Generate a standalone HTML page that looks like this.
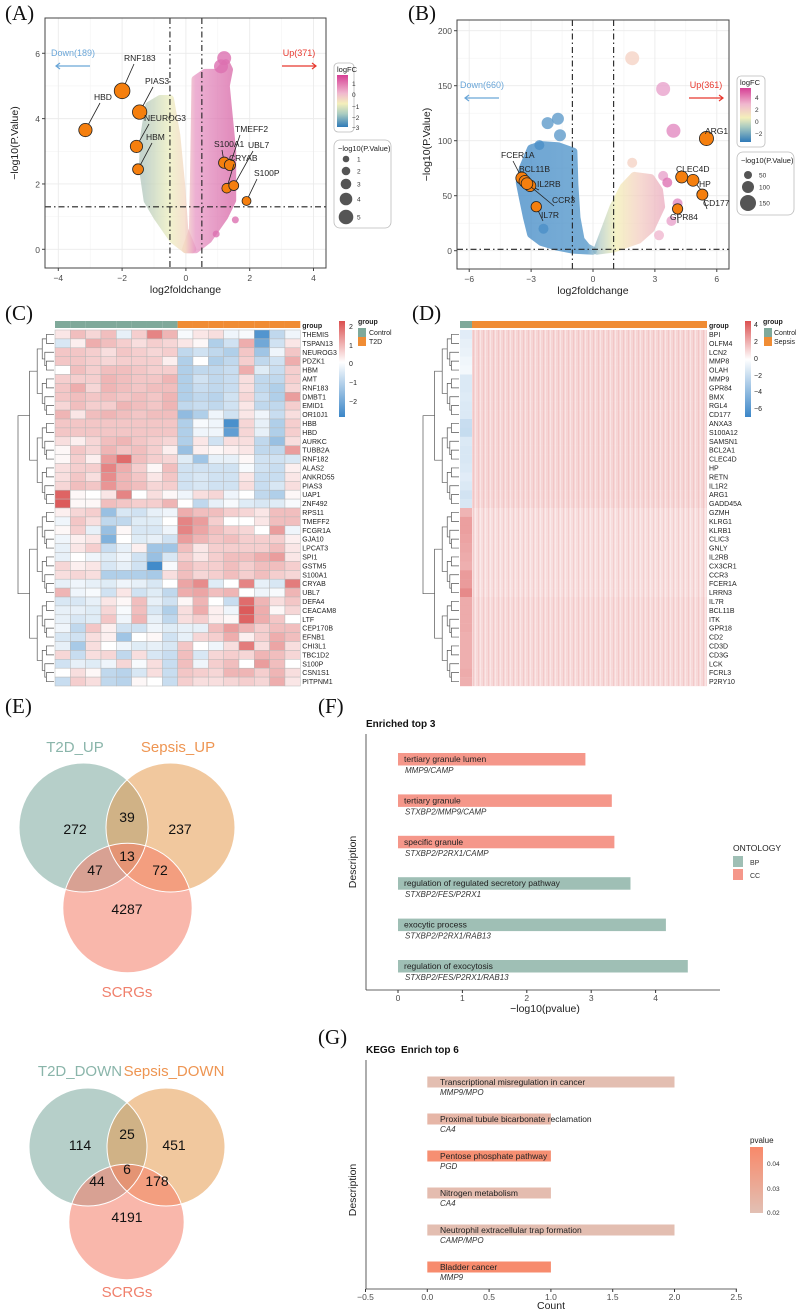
<!DOCTYPE html>
<html><head><meta charset="utf-8">
<style>
html,body{margin:0;padding:0;background:#fff;}
svg{display:block;font-family:"Liberation Sans",sans-serif;}
.pl{font-family:"Liberation Serif",serif;font-size:21px;fill:#111;}
.tk{font-size:8.5px;fill:#4d4d4d;}
.at{font-size:10.5px;fill:#222;}
.gl{font-size:7px;fill:#222;}
</style></head>
<body>
<svg id="fig" width="796" height="1312" viewBox="0 0 796 1312">
<defs>
<linearGradient id="gA" gradientUnits="userSpaceOnUse" x1="144" y1="0" x2="230" y2="0">
<stop offset="0" stop-color="#b3c8bd"/><stop offset="0.3" stop-color="#eceebd"/><stop offset="0.48" stop-color="#f4d6c2"/><stop offset="0.6" stop-color="#e796c4"/><stop offset="1" stop-color="#d96aa9"/></linearGradient>
<linearGradient id="gB" gradientUnits="userSpaceOnUse" x1="520" y1="0" x2="680" y2="0">
<stop offset="0" stop-color="#3f88c5"/><stop offset="0.42" stop-color="#4b92c8"/><stop offset="0.5" stop-color="#b6cdc6"/><stop offset="0.6" stop-color="#f3efb4"/><stop offset="0.75" stop-color="#f3cdc2"/><stop offset="1" stop-color="#e594bd"/></linearGradient>
<linearGradient id="cbA" x1="0" y1="0" x2="0" y2="1"><stop offset="0" stop-color="#d63f95"/><stop offset="0.35" stop-color="#f0b8cf"/><stop offset="0.55" stop-color="#f4efbb"/><stop offset="0.75" stop-color="#a9cbc1"/><stop offset="1" stop-color="#2f7ab8"/></linearGradient>
<linearGradient id="cbB" x1="0" y1="0" x2="0" y2="1"><stop offset="0" stop-color="#d63f95"/><stop offset="0.3" stop-color="#f0b8cf"/><stop offset="0.55" stop-color="#f4efbb"/><stop offset="0.72" stop-color="#a9cbc1"/><stop offset="1" stop-color="#2f7ab8"/></linearGradient>
<linearGradient id="cbC" x1="0" y1="0" x2="0" y2="1"><stop offset="0" stop-color="#db5050"/><stop offset="0.43" stop-color="#ffffff"/><stop offset="1" stop-color="#3b86c8"/></linearGradient>
<linearGradient id="cbD" x1="0" y1="0" x2="0" y2="1"><stop offset="0" stop-color="#db5050"/><stop offset="0.4" stop-color="#ffffff"/><stop offset="1" stop-color="#3b86c8"/></linearGradient>
<linearGradient id="cbG" x1="0" y1="0" x2="0" y2="1"><stop offset="0" stop-color="#f8896a"/><stop offset="1" stop-color="#e2c0b4"/></linearGradient>
<pattern id="stripes" width="5" height="8" patternUnits="userSpaceOnUse"><rect x="0" y="0" width="1" height="8" fill="#ffffff" opacity="0.35"/><rect x="3" y="0" width="0.8" height="8" fill="#e8a0a0" opacity="0.35"/></pattern>
</defs>
<g id="root"></g>
</svg>
<script>
// ===== DATA =====
const aGenes=["HBD","RNF183","PIAS3","NEUROG3","HBM","S100A1","TMEFF2","CRYAB","UBL7","S100P"];
const aFC=[-3.15,-2.0,-1.45,-1.55,-1.5,1.2,1.38,1.28,1.5,1.9];
const aP=[3.65,4.85,4.2,3.15,2.45,2.65,2.58,1.87,1.95,1.48];
const aExtraFC=[1.55,0.95,1.2,1.1];
const aExtraP=[0.9,0.47,5.85,5.6];
const bGenes=["FCER1A","BCL11B","IL2RB","CCR3","IL7R","ARG1","CLEC4D","HP","CD177","GPR84"];
const bFC=[-3.45,-3.3,-3.05,-3.2,-2.75,5.5,4.3,4.85,5.3,4.1];
const bP=[66,63,59,61,40,102,67,64,51,38];
const bExtraFC=[1.9,3.4,3.9,-1.7,-1.6,-2.2,1.9,3.4,3.6,4.1,3.8,3.2,-2.6,-2.4];
const bExtraP=[175,147,109,120,105,116,80,68,62,43,27,14,96,20];
const bExtraCol=["#f5d3c6","#e8a3cc","#e28ac0","#5f9bcb","#5f9bcb","#5f9bcb","#f5d3c6","#e8a3cc","#de73b3","#e08bc0","#e8a3cc","#f0b8cf","#4b8fc7","#4b8fc7"];
const cGenes=["THEMIS","TSPAN13","NEUROG3","PDZK1","HBM","AMT","RNF183","DMBT1","EMID1","OR10J1","HBB","HBD","AURKC","TUBB2A","RNF182","ALAS2","ANKRD55","PIAS3","UAP1","ZNF492","RPS11","TMEFF2","FCGR1A","GJA10","LPCAT3","SPI1","GSTM5","S100A1","CRYAB","UBL7","DEFA4","CEACAM8","LTF","CEP170B","EFNB1","CHI3L1","TBC1D2","S100P","CSN1S1","PITPNM1"];
const cGroups=["Control","Control","Control","Control","Control","Control","Control","Control","T2D","T2D","T2D","T2D","T2D","T2D","T2D","T2D"];
const cValues=[
[.3,.8,.5,.8,-.3,.6,1.5,.9,-.1,.3,.4,-.2,-.1,-2.2,-.8,-.2],
[-.5,.2,1,.8,.6,.4,.6,.5,.3,.1,-1,-.6,1,-1.8,-.6,.3],
[.7,.7,.6,.4,.7,.6,.5,.6,-.8,-.6,-.8,-1,.7,-1.2,-.2,.7],
[.7,.7,.6,.5,.6,.6,.6,.2,-1,0,-1,-.8,.6,-.8,-.6,1],
[0,.8,.6,.8,.8,.7,.6,.6,-1,-.8,-.8,-.7,1,-.4,-.7,.6],
[.6,.6,.6,.9,.8,.7,.7,.9,-1,-.6,-.8,-.7,.4,-.8,-.8,.6],
[.7,1,.5,.9,.8,.7,.8,.8,-1,-.7,-.8,-.7,.4,-.8,-1,.5],
[.7,.8,.7,.8,.7,.8,.7,.9,-1,-.8,-.9,-.6,.5,-.7,-1,1.2],
[.5,.8,.6,.6,.9,.8,.7,.9,-.8,-.7,-.8,-.6,.3,-.8,-.8,.6],
[.9,.3,.8,.9,.8,.7,.8,.8,-1.4,-1,-.2,-.6,.3,-.2,-.7,.4],
[.7,.7,.7,.7,.7,.7,.7,.7,-1,-.1,-.2,-2.3,.5,-.3,-1,.6],
[.7,.7,.7,.7,.7,.7,.7,.7,-1,-.2,-.2,-2,.5,-.3,-1,.6],
[.4,.2,.5,.8,.9,.7,.6,.5,-1,.3,-.6,.4,.4,-.8,-1.3,.4],
[.1,.7,.5,.9,.7,.8,.6,.2,-1.3,.2,.1,.2,.3,-.8,-.8,1.2],
[.1,.6,.2,1.2,1.8,.8,.6,.5,-.4,-1.2,-.3,-.3,.1,-.6,-.6,-.5],
[.4,.6,.6,1.5,1,.6,.1,.8,-.6,-.6,-.6,-.6,-.1,-.6,-.7,.2],
[.4,.7,.4,1.4,.9,.7,.3,.7,-.6,-.5,-.6,-.6,.3,-.7,-.7,.3],
[.5,.8,.7,1.3,.9,.8,.5,.6,-.6,-.5,-.6,-.6,.4,-.7,-.5,.4],
[1.9,.1,0,.3,1.5,0,.4,.1,-.2,.4,.5,-.2,0,-.8,-1,.1],
[2,.1,.1,.8,.7,.6,.6,.9,0,-.8,-.3,-.1,-.4,-.5,-.4,-.1],
[.2,.5,.6,-1.3,-.5,-.6,-.3,-.2,1,.8,.8,.6,.5,.3,.8,.8],
[-.2,.7,.4,-.8,-.8,-.4,-.4,0,1.5,1.2,.6,0,0,.3,.8,.8],
[.1,.6,-.3,-1.3,.1,-.5,-.5,-.2,1.5,1.1,.8,.6,.5,0,1.2,-.2],
[-.2,.2,.3,-1.6,0,-.4,-.3,-.6,1.2,.9,.7,.8,.6,.6,.6,.2],
[-.3,.3,.6,-.7,-.3,.2,-1.2,-1.2,.8,.3,.6,.6,.6,.6,.8,.3],
[-.3,0,-.2,-.4,-.2,-.6,-1.3,-.5,.6,.3,.6,.8,.8,1,1.2,.3],
[.5,.2,.3,-.5,-.3,-.6,-2.4,-.1,.8,.6,.6,.8,.6,.8,.8,.6],
[.4,.5,.4,-1,-1,-1,-1.1,.4,.8,.5,.6,.8,.6,.8,.6,.5],
[-.3,-.2,-.3,-.4,-.2,-.3,-.5,0,1.1,1.4,-.4,0,1.5,-.3,-.5,1.6],
[.9,-.2,-.1,-.6,.3,-.6,-.4,-.8,1,1.1,.8,.9,0,-.2,-.1,.9],
[-.5,-.5,-.3,.3,.1,.8,-.3,-.6,.1,.9,0,-.7,1.8,.9,.4,.7],
[-.3,-.3,-.4,.5,-.1,.8,-.5,-1,.4,1,.2,-.2,2,1,.1,.5],
[-.3,-.5,-.4,.7,-.2,.9,-.3,-.8,.4,.6,.2,.1,1.9,1,.7,0],
[-.2,-.8,.7,.2,-.6,-.6,-.2,-.4,-.3,-.3,.8,1.2,.9,.6,.8,.8],
[-.5,-.6,.4,.2,-1.2,0,.1,-.6,-.3,.5,.6,1,.2,.6,1,.8],
[-.3,-1.1,.4,0,-.2,-.4,-.3,-.5,.7,0,-.2,.4,1.6,.4,1.1,.4],
[.5,-.7,.4,.5,-.8,.4,-.5,-.7,.8,-.5,.5,.6,.5,.9,.8,.5],
[-.6,-.3,-.4,-.2,.5,-.1,.4,-.7,.8,-.2,.6,.8,0,1.2,.8,0],
[0,.4,.1,-.8,-.9,-.5,.4,-.7,.7,.6,.5,.9,.9,.6,.9,.4],
[-.7,.6,.4,-.8,-.9,.1,0,-.7,.6,.4,.4,.5,.6,.5,1,.3]];
const dGenes=["BPI","OLFM4","LCN2","MMP8","OLAH","MMP9","GPR84","BMX","RGL4","CD177","ANXA3","S100A12","SAMSN1","BCL2A1","CLEC4D","HP","RETN","IL1R2","ARG1","GADD45A","GZMH","KLRG1","KLRB1","CLIC3","GNLY","IL2RB","CX3CR1","CCR3","FCER1A","LRRN3","IL7R","BCL11B","ITK","GPR18","CD2","CD3D","CD3G","LCK","FCRL3","P2RY10"];
const dControl=[-1,-0.8,-0.7,-0.5,-0.4,-1.2,-1.2,-1.1,-1.2,-1.2,-1.8,-1.9,-1.2,-1.3,-1.3,-1.2,-1.0,-1.2,-1.5,-1.3,1.8,2.3,2.3,2.2,2.1,2.0,1.9,2.4,2.4,2.8,2.0,2.0,2.0,2.0,1.9,1.9,1.9,1.9,2.0,1.9];
const dSepsis=[1.0,1.0,1.0,1.0,1.0,1.0,1.0,1.0,1.0,1.0,1.0,1.0,1.0,1.0,1.0,1.0,1.0,1.0,1.0,1.0,0.8,0.8,0.8,0.8,0.8,0.8,0.8,0.8,0.8,0.8,0.9,0.9,0.9,0.9,0.9,0.9,0.9,0.9,0.9,0.9];
const fTerms=["tertiary granule lumen","tertiary granule","specific granule","regulation of regulated secretory pathway","exocytic process","regulation of exocytosis"];
const fGenes=["MMP9/CAMP","STXBP2/MMP9/CAMP","STXBP2/P2RX1/CAMP","STXBP2/FES/P2RX1","STXBP2/P2RX1/RAB13","STXBP2/FES/P2RX1/RAB13"];
const fValues=[2.91,3.32,3.36,3.61,4.16,4.5];
const fOnt=["CC","CC","CC","BP","BP","BP"];
const fTicks=[0,1,2,3,4];
const gTerms=["Transcriptional misregulation in cancer","Proximal tubule bicarbonate reclamation","Pentose phosphate pathway","Nitrogen metabolism","Neutrophil extracellular trap formation","Bladder cancer"];
const gGenes=["MMP9/MPO","CA4","PGD","CA4","CAMP/MPO","MMP9"];
const gCounts=[2,1,1,1,2,1];
const gPvals=[0.021,0.025,0.045,0.022,0.021,0.047];
const gTicks=[-0.5,0,0.5,1,1.5,2,2.5];
const vennUpLabels=["T2D_UP","Sepsis_UP","SCRGs"];
const vennUp=[272,39,237,13,47,72,4287];
const vennDownLabels=["T2D_DOWN","Sepsis_DOWN","SCRGs"];
const vennDown=[114,25,451,6,44,178,4191];

// ===== HELPERS =====
const NS="http://www.w3.org/2000/svg";
const root=document.getElementById('root');
function mk(tag,attrs,parent){const e=document.createElementNS(NS,tag);for(const k in attrs)e.setAttribute(k,attrs[k]);(parent||root).appendChild(e);return e;}
function txt(s,x,y,cls,extra,parent){const e=mk('text',Object.assign({x:x,y:y,class:cls||''},extra||{}),parent);e.textContent=s;return e;}
function lerp(a,b,t){return a+(b-a)*t;}
function mixHex(c1,c2,t){const p=h=>[parseInt(h.substr(1,2),16),parseInt(h.substr(3,2),16),parseInt(h.substr(5,2),16)];const a=p(c1),b=p(c2);return 'rgb('+a.map((v,i)=>Math.round(lerp(v,b[i],t))).join(',')+')';}
function divColor(v,lo,hi){if(v>=0)return mixHex('#ffffff','#d94b4b',Math.min(v/hi,1));return mixHex('#ffffff','#3a86c8',Math.min(-v/(-lo),1));}

[["(A)",5,20],["(B)",408,20],["(C)",5,320],["(D)",412,320],["(E)",5,713],["(F)",318,713],["(G)",318,1044]].forEach(p=>{
 const e=txt(p[0],p[1],p[2],'pl');
 
 
});

function volcano(cfg){
 const g=mk('g',{});
 
 
 const X=cfg.sx,Y=cfg.sy;
 mk('rect',{x:cfg.x0,y:cfg.y0,width:cfg.x1-cfg.x0,height:cfg.y1-cfg.y0,fill:'#fff'},g);
 cfg.xMinor.forEach(v=>mk('line',{x1:X(v),x2:X(v),y1:cfg.y0,y2:cfg.y1,stroke:'#f3f3f3','stroke-width':0.6},g));
 cfg.yMinor.forEach(v=>mk('line',{y1:Y(v),y2:Y(v),x1:cfg.x0,x2:cfg.x1,stroke:'#f3f3f3','stroke-width':0.6},g));
 cfg.xTicks.forEach(v=>mk('line',{x1:X(v),x2:X(v),y1:cfg.y0,y2:cfg.y1,stroke:'#ebebeb','stroke-width':0.9},g));
 cfg.yTicks.forEach(v=>mk('line',{y1:Y(v),y2:Y(v),x1:cfg.x0,x2:cfg.x1,stroke:'#ebebeb','stroke-width':0.9},g));
 cfg.clouds.forEach(c=>{
  const d='M'+c.pts.map(p=>X(p[0]).toFixed(1)+','+Y(p[1]).toFixed(1)).join('L')+'Z';
  const e=mk('path',{d:d,fill:c.fill,opacity:0.75,stroke:c.fill,'stroke-width':8,'stroke-linejoin':'round'},g);
  
  
 });
 cfg.extras.forEach((p,i)=>{
  const e=mk('circle',{cx:X(p[0]),cy:Y(p[1]),r:p[3],fill:p[2],opacity:0.8},g);
  
  
 });
 const dd='6,3,1.5,3';
 cfg.vlines.forEach(v=>mk('line',{x1:X(v),x2:X(v),y1:cfg.y0,y2:cfg.y1,stroke:'#222','stroke-width':1.1,'stroke-dasharray':dd},g));
 mk('line',{x1:cfg.x0,x2:cfg.x1,y1:Y(cfg.hline),y2:Y(cfg.hline),stroke:'#222','stroke-width':1.1,'stroke-dasharray':dd},g);
 cfg.genes.forEach((name,i)=>{
  const px=X(cfg.fc[i]),py=Y(cfg.p[i]);
  const lp=cfg.lbl[i];
  mk('line',{x1:px,y1:py,x2:lp[0]+lp[2],y2:lp[1]+3,stroke:'#222','stroke-width':0.8},g);
  const c=mk('circle',{cx:px,cy:py,r:cfg.rad(cfg.p[i]),fill:'#f57f0e',stroke:'#222','stroke-width':0.8},g);
  
  
  const t=txt(name,lp[0],lp[1],'',{'font-size':'8.5px',fill:'#222'},g);
  
  
 });
 mk('rect',{x:cfg.x0,y:cfg.y0,width:cfg.x1-cfg.x0,height:cfg.y1-cfg.y0,fill:'none',stroke:'#444','stroke-width':1},g);
 cfg.xTicks.forEach(v=>{mk('line',{x1:X(v),x2:X(v),y1:cfg.y1,y2:cfg.y1+3,stroke:'#444'},g);
  const t=txt(String(v).replace('-','−'),X(v),cfg.y1+13,'tk',{'text-anchor':'middle','font-size':'9.5px'},g);
  
  });
 cfg.yTicks.forEach(v=>{mk('line',{x1:cfg.x0-3,x2:cfg.x0,y1:Y(v),y2:Y(v),stroke:'#444'},g);
  const t=txt(String(v),cfg.x0-5,Y(v)+3.5,'tk',{'text-anchor':'end','font-size':'9.5px'},g);
  
  });
 const xt=txt('log2foldchange',(cfg.x0+cfg.x1)/2,cfg.y1+25,'at',{'text-anchor':'middle'},g);
 
 
 const yt=txt('−log10(P.Value)',0,0,'at',{'text-anchor':'middle',transform:'translate('+(cfg.x0-27)+','+((cfg.y0+cfg.y1)/2)+') rotate(-90)'},g);
 
 
 const dn=txt(cfg.down,cfg.downX,cfg.annY,'',{'font-size':'9px',fill:'#6aa6d8','text-anchor':'middle'},g);
 
 
 mk('line',{x1:cfg.downX+17,x2:cfg.downX-17,y1:cfg.annY+10,y2:cfg.annY+10,stroke:'#6aa6d8','stroke-width':1.2},g);
 mk('path',{d:'M'+(cfg.downX-13)+','+(cfg.annY+7)+'L'+(cfg.downX-17)+','+(cfg.annY+10)+'L'+(cfg.downX-13)+','+(cfg.annY+13),fill:'none',stroke:'#6aa6d8','stroke-width':1.2},g);
 const up=txt(cfg.up,cfg.upX,cfg.annY,'',{'font-size':'9px',fill:'#e8382e','text-anchor':'middle'},g);
 
 
 mk('line',{x1:cfg.upX-17,x2:cfg.upX+17,y1:cfg.annY+10,y2:cfg.annY+10,stroke:'#e8382e','stroke-width':1.2},g);
 mk('path',{d:'M'+(cfg.upX+13)+','+(cfg.annY+7)+'L'+(cfg.upX+17)+','+(cfg.annY+10)+'L'+(cfg.upX+13)+','+(cfg.annY+13),fill:'none',stroke:'#e8382e','stroke-width':1.2},g);
 return g;
}

const Ax=v=>185.9+v*31.9, Ay=v=>249.3-v*32.67;
volcano({name:'volcano-plot-a',x0:45,x1:326,y0:18,y1:268,sx:Ax,sy:Ay,
 xTicks:[-4,-2,0,2,4],yTicks:[0,2,4,6],xMinor:[-3,-1,1,3],yMinor:[1,3,5],
 vlines:[-0.5,0.5],hline:1.3,
 clouds:[{name:'down-cloud-a',fill:'url(#gA)',pts:[[0,0],[-0.4,0.3],[-0.9,1],[-1.2,1.5],[-1.35,2.5],[-1.3,3.5],[-1.15,4.4],[-0.8,4.6],[-0.5,4.6],[-0.3,3.5],[-0.15,2],[-0.05,0.6],[0.2,0]]},
  {name:'up-cloud-a',fill:'url(#gA)',pts:[[0,0],[0.22,0.6],[0.25,2],[0.3,5.2],[0.6,5.4],[1.0,5.4],[1.25,5.7],[1.35,5.5],[1.25,5.0],[1.35,4],[1.45,3],[1.45,1.5],[1.2,1.0],[0.7,0.3],[0.3,0]]}],
 extras:aExtraFC.map((v,i)=>[v,aExtraP[i],'#dc70b0',i<2?3.5:7]),
 genes:aGenes,fc:aFC,p:aP,rad:p=>3+p*1.0,
 lbl:[[94,100,6],[124,61,10],[145,84,8],[144,121,5],[146,140,6],[214,147,8],[235,132,5],[229,161,5],[248,148,5],[254,176,3]],
 down:'Down(189)',downX:73,up:'Up(371)',upX:299,annY:56});

const Bx=v=>593+v*20.63, By=v=>250.7-v*1.1;
volcano({name:'volcano-plot-b',x0:457,x1:729,y0:20,y1:269,sx:Bx,sy:By,
 xTicks:[-6,-3,0,3,6],yTicks:[0,50,100,150,200],xMinor:[-4.5,-1.5,1.5,4.5],yMinor:[25,75,125,175],
 vlines:[-1,1],hline:1.3,
 clouds:[{name:'down-cloud-b',fill:'url(#gB)',pts:[[0,0],[-0.3,3],[-0.6,10],[-0.8,30],[-0.9,60],[-0.95,90],[-1.7,95],[-2.5,96],[-3.0,93],[-3.4,75],[-3.55,62],[-3.4,48],[-3.2,30],[-3.0,15],[-2.5,8],[-1.8,4],[-1,1]]},
  {name:'up-cloud-b',fill:'url(#gB)',pts:[[0.2,0],[0.6,20],[1,40],[1.5,58],[2,68],[2.8,66],[3.2,55],[3.3,40],[2.8,20],[2.2,10],[1,2]]}],
 extras:bExtraFC.map((v,i)=>[v,bExtraP[i],bExtraCol[i],i<3?7:(i<6?6:5)]),
 genes:bGenes,fc:bFC,p:bP,rad:p=>4+p*0.03,
 lbl:[[501,158,12],[519,172,6],[537,187,2],[552,203,2],[541,218,2],[705,134,5],[676,172,10],[699,187,2],[703,206,4],[670,220,8]],
 down:'Down(660)',downX:482,up:'Up(361)',upX:706,annY:88});

function volcLegend(name,x,y,w,h,grad,labels,sizeBox,sizes){
 const g=mk('g',{});
 
 
 mk('rect',{x:x,y:y,width:w,height:h,rx:4,fill:'#fff',stroke:'#bbb','stroke-width':0.8},g);
 txt('logFC',x+3,y+9,'',{'font-size':'7.5px',fill:'#222'},g);
 mk('rect',{x:x+3,y:y+12,width:11,height:h-17,fill:grad},g);
 labels.forEach(l=>txt(l[0],x+18,l[1],'',{'font-size':'6.5px',fill:'#333'},g));
 mk('rect',{x:sizeBox[0],y:sizeBox[1],width:sizeBox[2],height:sizeBox[3],rx:6,fill:'#fff',stroke:'#bbb','stroke-width':0.8},g);
 txt('−log10(P.Value)',sizeBox[0]+4,sizeBox[1]+11,'',{'font-size':'7.5px',fill:'#222'},g);
 sizes.forEach(s=>{mk('circle',{cx:s[0],cy:s[1],r:s[2],fill:'#555'},g);txt(s[3],s[0]+11,s[1]+2.5,'',{'font-size':'6.5px',fill:'#333'},g);});
}
volcLegend('legend-a',334,63,20,69,'url(#cbA)',[['1',86],['0',97],['−1',109],['−2',120],['−3',130]],[334,140,57,88],[[346,159,3.3,'1'],[346,171,4.3,'2'],[346,184,5.3,'3'],[346,199,6.3,'4'],[346,217,7.3,'5']]);
volcLegend('legend-b',737,76,28,71,'url(#cbB)',[['4',100],['2',112],['0',124],['−2',136]],[737,152,57,63],[[748,175,4,'50'],[748,187,6,'100'],[748,203,8,'150']]);

function dendro(g,xLeft,xRight,rowY,a,b,depth){
 if(b-a===1){return [rowY(a),xRight];}
 const m=Math.floor((a+b)/2);
 const L=dendro(g,xLeft,xRight,rowY,a,m,depth+1),R=dendro(g,xLeft,xRight,rowY,m,b,depth+1);
 const span=b-a;
 const x=xRight-(xRight-xLeft)*Math.min(1,Math.pow(span/40,0.6))-2;
 mk('path',{d:'M'+L[1]+','+L[0]+'H'+x+'V'+R[0]+'H'+R[1],fill:'none',stroke:'#555','stroke-width':0.7},g);
 return [(L[0]+R[0])/2,x];
}

(function(){
 const g=mk('g',{});
 
 
 const cw=15.33,rh=8.9,x0=55,y0=330;
 cGroups.forEach((grp,c)=>{const r=mk('rect',{x:x0+c*cw,y:321,width:cw,height:7,fill:grp==='Control'?'#7fa99a':'#f08c34'},g);
  
  });
 txt('group',x0+16*cw+2,328,'gl',{'font-weight':'bold'},g);
 cValues.forEach((row,r)=>{
  row.forEach((v,c)=>{const e=mk('rect',{x:x0+c*cw,y:y0+r*rh,width:cw,height:rh,fill:divColor(v,-2.5,2.2),stroke:'#b8b8b8','stroke-width':0.5},g);
   
   });
  const t=txt(cGenes[r],x0+16*cw+2,y0+r*rh+rh/2+2.5,'gl',{},g);
  
  
 });
 const dg=mk('g',{},g);
 
 
 dendro(dg,20,54,r=>y0+r*rh+rh/2,0,40,0);
 mk('rect',{x:339,y:321,width:6,height:96,fill:'url(#cbC)'},g);
 [['2',327],['1',346],['0',364],['−1',383],['−2',402]].forEach(l=>txt(l[0],349,l[1]+2,'gl',{},g));
 txt('group',358,324,'gl',{'font-weight':'bold'},g);
 mk('rect',{x:358,y:328,width:8,height:9,fill:'#7fa99a'},g);
 mk('rect',{x:358,y:337,width:8,height:9,fill:'#f08c34'},g);
 txt('Control',369,335,'gl',{},g);txt('T2D',369,344,'gl',{},g);
})();

(function(){
 const g=mk('g',{});
 
 
 const rh=8.9,y0=330,xc=460,xs=472,xe=707;
 mk('rect',{x:xc,y:321,width:xs-xc,height:7,fill:'#7fa99a'},g);
 mk('rect',{x:xs,y:321,width:xe-xs,height:7,fill:'#f08c34'},g);
 txt('group',xe+2,328,'gl',{'font-weight':'bold'},g);
 dGenes.forEach((gn,r)=>{
  const c1=mk('rect',{x:xc,y:y0+r*rh,width:xs-xc,height:rh+0.2,fill:divColor(dControl[r],-6.5,4.3)},g);
  
  
  const c2=mk('rect',{x:xs,y:y0+r*rh,width:xe-xs,height:rh+0.2,fill:divColor(dSepsis[r],-6.5,4.3)},g);
  
  
  const t=txt(gn,xe+2,y0+r*rh+rh/2+2.5,'gl',{},g);
  
  
 });
 mk('rect',{x:xs,y:y0,width:xe-xs,height:40*rh,fill:'url(#stripes)'},g);
 const dg=mk('g',{},g);
 
 
 dendro(dg,425,459,r=>y0+r*rh+rh/2,0,40,0);
 mk('rect',{x:745,y:321,width:6,height:96,fill:'url(#cbD)'},g);
 [['4',325],['2',342],['0',359],['−2',376],['−4',392],['−6',409]].forEach(l=>txt(l[0],754,l[1]+2,'gl',{},g));
 txt('group',763,324,'gl',{'font-weight':'bold'},g);
 mk('rect',{x:764,y:328,width:8,height:9,fill:'#7fa99a'},g);
 mk('rect',{x:764,y:337,width:8,height:9,fill:'#f08c34'},g);
 txt('Control',774,335,'gl',{},g);txt('Sepsis',774,344,'gl',{},g);
})();

function venn(name,labels,vals,c,lab,pos){
 const g=mk('g',{});
 
 
 const cols=['#7aa89d','#e69b4f','#f47c66'];
 c.forEach((k,i)=>{const e=mk('circle',{cx:k[0],cy:k[1],r:k[2],fill:cols[i],'fill-opacity':0.55},g);
  
  });
 c.forEach(k=>mk('circle',{cx:k[0],cy:k[1],r:k[2],fill:'none',stroke:'#fff','stroke-width':1},g));
 const lc=['#8ab5aa','#ee9552','#f0806c'];
 labels.forEach((l,i)=>{const t=txt(l,lab[i][0],lab[i][1],'',{'font-size':'15px',fill:lc[i],'text-anchor':'middle'},g);
  
  });
 vals.forEach((v,i)=>{const t=txt(String(v),pos[i][0],pos[i][1]+5,'',{'font-size':'14px',fill:'#111','text-anchor':'middle'},g);
  
  });
}
venn('venn-up',vennUpLabels,vennUp,[[83.5,827.5,64.5],[170.5,827.5,64.5],[127.5,908,64.7]],[[75,752],[178,752],[127,997]],[[75,829],[127,817],[180,829],[127,856],[95,870],[160,870],[127,909]]);
venn('venn-down',vennDownLabels,vennDown,[[88,1147,59],[166,1147,59],[126.5,1222,57.7]],[[80,1076],[174,1076],[127,1297]],[[80,1145],[127,1134],[174,1145],[127,1169],[97,1181],[157,1181],[127,1217]]);

(function(){
 const g=mk('g',{});
 
 
 const X=v=>398+v*64.4, yc=i=>759+i*41.4;
 txt('Enriched top 3',366,727,'',{'font-size':'10px','font-weight':'bold',fill:'#111'},g);
 mk('line',{x1:366,x2:366,y1:734,y2:990,stroke:'#333','stroke-width':0.8},g);
 mk('line',{x1:366,x2:720,y1:990,y2:990,stroke:'#333','stroke-width':0.8},g);
 fTicks.forEach(v=>{mk('line',{x1:X(v),x2:X(v),y1:990,y2:993,stroke:'#333'},g);
  const t=txt(String(v),X(v),1001,'tk',{'text-anchor':'middle'},g);
  
  });
 fTerms.forEach((term,i)=>{
  const b=mk('rect',{x:X(0),y:yc(i)-6,width:X(fValues[i])-X(0),height:12.5,fill:fOnt[i]==='CC'?'#f5978a':'#9fbfb5'},g);
  
  
  txt(term,404,yc(i)+3,'',{'font-size':'8.5px',fill:'#222'},g);
  txt(fGenes[i],405,yc(i)+14,'',{'font-size':'8px',fill:'#333','font-style':'italic'},g);
 });
 const xt=txt('−log10(pvalue)',545,1012,'at',{'text-anchor':'middle'},g);
 
 
 const yt=txt('Description',0,0,'at',{'text-anchor':'middle',transform:'translate(356,862) rotate(-90)'},g);
 
 
 txt('ONTOLOGY',733,851,'',{'font-size':'8.5px',fill:'#222'},g);
 mk('rect',{x:733,y:856,width:10,height:11,fill:'#9fbfb5'},g);
 mk('rect',{x:733,y:869,width:10,height:11,fill:'#f5978a'},g);
 txt('BP',750,865,'',{'font-size':'7px',fill:'#333'},g);
 txt('CC',750,878,'',{'font-size':'7px',fill:'#333'},g);
})();

(function(){
 const g=mk('g',{});
 
 
 const X=v=>427.3+v*123.6, yc=i=>1082+i*37;
 const pc=p=>mixHex('#e2c0b4','#f8896a',Math.max(0,Math.min(1,(p-0.02)/0.028)));
 txt('KEGG\u00a0\u00a0Enrich top 6',366,1053,'',{'font-size':'10px','font-weight':'bold',fill:'#111'},g);
 mk('line',{x1:366,x2:366,y1:1060,y2:1289,stroke:'#333','stroke-width':0.8},g);
 mk('line',{x1:366,x2:737,y1:1289,y2:1289,stroke:'#333','stroke-width':0.8},g);
 gTicks.forEach(v=>{mk('line',{x1:X(v),x2:X(v),y1:1289,y2:1292,stroke:'#333'},g);
  const t=txt(v.toFixed(1).replace('-','−'),X(v),1300,'tk',{'text-anchor':'middle'},g);
  
  });
 gTerms.forEach((term,i)=>{
  const b=mk('rect',{x:X(0),y:yc(i)-5.5,width:X(gCounts[i])-X(0),height:11,fill:pc(gPvals[i])},g);
  
  
  txt(term,440,yc(i)+3,'',{'font-size':'8.5px',fill:'#222'},g);
  txt(gGenes[i],440,yc(i)+13,'',{'font-size':'8px',fill:'#333','font-style':'italic'},g);
 });
 const xt=txt('Count',551,1309,'at',{'text-anchor':'middle'},g);
 
 
 const yt=txt('Description',0,0,'at',{'text-anchor':'middle',transform:'translate(356,1190) rotate(-90)'},g);
 
 
 txt('pvalue',750,1143,'',{'font-size':'8px',fill:'#222'},g);
 mk('rect',{x:750,y:1147,width:13,height:66,fill:'url(#cbG)'},g);
 [['0.04',1166],['0.03',1191],['0.02',1215]].forEach(l=>txt(l[0],767,l[1],'',{'font-size':'6.5px',fill:'#333'},g));
})();
</script>
</body></html>
